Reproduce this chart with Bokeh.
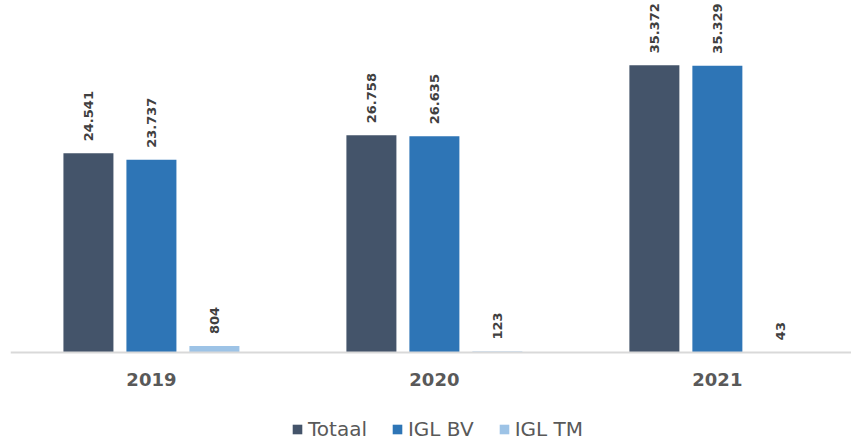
import math
from bokeh.plotting import figure
from bokeh.models import ColumnDataSource, LabelSet, Legend, LegendItem, FixedTicker, Range1d
from bokeh.transform import dodge
from bokeh.core.properties import value
from bokeh.embed import file_html
from bokeh.resources import INLINE

years = ["2019", "2020", "2021"]
series = ["Totaal", "IGL BV", "IGL TM"]
totaal = [24541, 26758, 35372]
igl_bv = [23737, 26635, 35329]
igl_tm = [804, 123, 43]
colors = ["#44546A", "#2E75B6", "#9DC3E6"]

FONT = "DejaVu Sans"

def fmt(v):
    return f"{v:,}".replace(",", ".")

p = figure(width=851, height=443, output_backend="svg", toolbar_location=None,
           x_range=Range1d(-0.498, 2.474), y_range=Range1d(-11207, 43350),
           y_axis_location=None, min_border_left=10, min_border_right=0,
           min_border_top=0, min_border_bottom=0)
p.outline_line_color = None
p.xgrid.visible = False
p.ygrid.visible = False
p.background_fill_color = "white"
p.border_fill_color = "white"

offsets = [-0.2226, 0.0, 0.2226]
vals_list = [totaal, igl_bv, igl_tm]
items = []
for name, vals, col, off in zip(series, vals_list, colors, offsets):
    src = ColumnDataSource(dict(x=list(range(len(years))), y=vals,
                                lab=[fmt(v) for v in vals]))
    r = p.vbar(x=dodge("x", off), top="y", bottom=0, width=0.1767, source=src,
               fill_color=col, line_color=None)
    items.append(LegendItem(label=name, renderers=[r]))
    ls = LabelSet(x=dodge("x", off), y="y", text="lab", source=src,
                  angle=math.pi / 2, text_align="left", text_baseline="middle",
                  y_offset=12, text_font=value(FONT), text_font_style="bold",
                  text_font_size="13px", text_color="#404040")
    p.add_layout(ls)

ax = p.xaxis[0]
ax.fixed_location = 0
ax.ticker = FixedTicker(ticks=list(range(len(years))))
ax.major_label_overrides = {i: y for i, y in enumerate(years)}
ax.major_tick_line_color = None
ax.minor_tick_line_color = None
ax.axis_line_color = "#D9D9D9"
ax.axis_line_width = 2
ax.major_label_text_font = FONT
ax.major_label_text_font_style = "bold"
ax.major_label_text_font_size = "18px"
ax.major_label_text_color = "#595959"
ax.major_label_standoff = 15

legend = Legend(items=items, orientation="horizontal", location=(281, 2),
                glyph_width=12, glyph_height=12, label_standoff=5, spacing=24,
                padding=0, margin=0, border_line_color=None,
                background_fill_alpha=0,
                label_text_font=FONT, label_text_font_size="20px",
                label_text_color="#595959")
p.add_layout(legend, "center")

open("out.html", "w").write(file_html(p, INLINE))
